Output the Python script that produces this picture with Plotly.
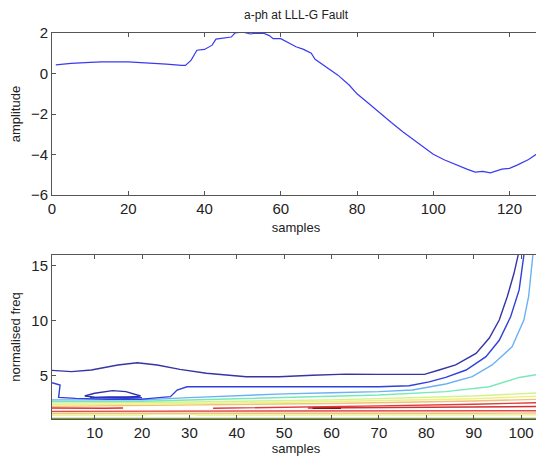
import plotly.graph_objects as go

# ---------------- data: top panel (a-ph signal) ----------------
sig_x = [1, 5, 10, 13, 20, 25, 30, 34, 35, 36.5, 38, 40, 42, 43, 45, 47, 48, 50, 52, 54, 55,
         57, 58, 60, 62, 64, 66, 68, 69, 72, 75, 78, 80, 83, 86, 89, 92, 95, 98, 100, 103,
         106, 109, 111, 113, 115, 118, 120, 122, 125, 128]
sig_y = [0.43, 0.5, 0.55, 0.58, 0.58, 0.53, 0.46, 0.4, 0.4, 0.66, 1.15, 1.19, 1.4, 1.7, 1.75,
         1.8, 2.0, 2.05, 1.95, 2.0, 2.03, 1.87, 1.72, 1.72, 1.52, 1.32, 1.19, 1.0, 0.7, 0.33,
         -0.08, -0.58, -1.0, -1.47, -1.96, -2.42, -2.87, -3.28, -3.7, -3.98, -4.27, -4.52,
         -4.73, -4.86, -4.83, -4.9, -4.72, -4.68, -4.52, -4.24, -3.86]
top_xticks = [0, 20, 40, 60, 80, 100, 120]
top_yticks = [-6, -4, -2, 0, 2]

# ---------------- data: bottom panel (contour lines) ----------------
lvl1_x = [1, 5.1, 9.3, 14.9, 19, 23.2, 28, 33.6, 42, 48.9, 56, 63, 70, 79.6, 82.7, 86.2, 90.5, 93.3, 95.4, 97.1, 98.5, 99.4]
lvl1_y = [5.45, 5.33, 5.48, 5.94, 6.15, 5.94, 5.54, 5.18, 4.87, 4.87, 5.0, 5.1, 5.08, 5.08, 5.48, 5.94, 7.0, 8.4, 10.05, 12.2, 14.3, 16]
loop1_x = [7.9, 10, 13.8, 16.6, 19.7, 17, 13, 10, 7.9]
loop1_y = [3.1, 3.35, 3.59, 3.5, 3.1, 3.0, 2.98, 3.0, 3.1]
lvl2_x = [1, 2.7, 2.4, 6, 12.8, 19.7, 21.8, 26, 27.4, 29.5, 40, 50, 60, 70, 76.4, 80.6, 84.1, 88.4, 92.6, 95.4, 97.8, 99.6, 100.6]
lvl2_y = [4.32, 4.1, 2.98, 2.89, 2.8, 2.8, 2.89, 3.04, 3.65, 3.95, 3.95, 3.95, 3.95, 3.95, 4.04, 4.4, 4.8, 5.48, 6.7, 8.2, 10.35, 12.8, 16]
loop2_x = [9, 13, 17, 20, 17, 13, 9]
loop2_y = [2.95, 3.02, 3.02, 2.95, 2.9, 2.9, 2.95]
lvl3_x = [1, 10, 20, 30, 40, 50, 60, 70, 77.1, 84.1, 89.7, 93.9, 98.1, 100.6, 101.6, 102.5]
lvl3_y = [2.75, 2.73, 2.75, 2.95, 3.15, 3.3, 3.4, 3.5, 3.65, 4.2, 4.87, 5.94, 7.6, 10.05, 12.2, 16]
lvl4_x = [1, 20, 40, 60, 70, 84.1, 93.3, 99.6, 104]
lvl4_y = [2.6, 2.62, 2.85, 3.05, 3.19, 3.5, 3.95, 4.8, 5.1]
lvl5_x = [1, 30, 60, 90, 104]
lvl5_y = [2.45, 2.55, 2.75, 3.1, 3.4]
lvl6_x = [1, 30, 60, 90, 104]
lvl6_y = [2.3, 2.4, 2.6, 2.85, 3.1]
lvl7_x = [1, 30, 60, 90, 104]
lvl7_y = [2.15, 2.25, 2.42, 2.65, 2.8]
lvl8a_x = [1, 4, 8, 12, 16]
lvl8a_y = [2.0, 1.98, 1.97, 1.98, 2.0]
lvl8b_x = [35, 50, 70, 90, 104]
lvl8b_y = [1.98, 2.05, 2.2, 2.35, 2.5]
lvl9_x = [55, 70, 85, 95, 104]
lvl9_y = [2.0, 2.05, 2.1, 2.12, 2.14]
lvl10_x = [56, 58, 60, 62]
lvl10_y = [1.98, 2.0, 2.0, 1.98]
lvl11_x = [1, 30, 60, 90, 104]
lvl11_y = [1.7, 1.7, 1.72, 1.74, 1.76]
lvl12_x = [1, 30, 60, 90, 104]
lvl12_y = [1.52, 1.5, 1.5, 1.52, 1.55]
lvl13_x = [1, 20, 22, 30, 32, 60, 90, 104]
lvl13_y = [1.36, 1.36, 1.45, 1.45, 1.36, 1.35, 1.35, 1.38]
lvl14_x = [1, 104]
lvl14_y = [1.06, 1.06]
bot_xticks = [10, 20, 30, 40, 50, 60, 70, 80, 90, 100]
bot_yticks = [5, 10, 15]

contours = [
    (lvl14_x, lvl14_y, "#7fa02a"),
    (lvl13_x, lvl13_y, "#ecef8a"),
    (lvl12_x, lvl12_y, "#f0c27c"),
    (lvl11_x, lvl11_y, "#e04848"),
    (lvl7_x, lvl7_y, "#f2c07a"),
    (lvl6_x, lvl6_y, "#eef080"),
    (lvl5_x, lvl5_y, "#d2f28a"),
    (lvl8a_x, lvl8a_y, "#e03030"),
    (lvl8b_x, lvl8b_y, "#e03a3a"),
    (lvl9_x, lvl9_y, "#d03030"),
    (lvl10_x, lvl10_y, "#901010"),
    (lvl4_x, lvl4_y, "#78e8b8"),
    (lvl3_x, lvl3_y, "#6ab2f2"),
    (loop2_x, loop2_y, "#2a40e0"),
    (lvl2_x, lvl2_y, "#3040dc"),
    (loop1_x, loop1_y, "#3232a8"),
    (lvl1_x, lvl1_y, "#3535a5"),
]

FONT = "Liberation Sans, Arial, sans-serif"

fig = go.Figure()
fig.add_trace(go.Scatter(x=sig_x, y=sig_y, mode="lines", line=dict(color="#3a3af0", width=1.2),
                         xaxis="x", yaxis="y", showlegend=False))
for cx, cy, col in contours:
    fig.add_trace(go.Scatter(x=cx, y=cy, mode="lines", line=dict(color=col, width=1.4),
                             xaxis="x2", yaxis="y2", showlegend=False))

axis_common = dict(showline=True, linecolor="#555555", linewidth=1, mirror="ticks",
                   ticks="inside", ticklen=4, tickcolor="#555555", showgrid=False,
                   zeroline=False, tickfont=dict(family=FONT, size=15, color="#222222"))

# page body has an 8px margin: figure sits at (8, 8)
fig.update_layout(
    width=536, height=449,
    margin=dict(l=44, r=4, t=25, b=38),
    paper_bgcolor="white", plot_bgcolor="white",
    font=dict(family=FONT, size=13, color="#222222"),
    xaxis=dict(domain=[0, 1], range=[0, 128], tickvals=top_xticks, anchor="y",
               title=dict(text="samples", standoff=6, font=dict(size=13)), **axis_common),
    yaxis=dict(domain=[0.58, 1], range=[-6, 2], tickvals=top_yticks, anchor="x",
               title=dict(text="amplitude", standoff=8, font=dict(size=13)), **axis_common),
    xaxis2=dict(domain=[0, 1], range=[1, 104], tickvals=bot_xticks, anchor="y2",
                title=dict(text="samples", standoff=0, font=dict(size=13)), **axis_common),
    yaxis2=dict(domain=[0, 0.425], range=[1, 16], tickvals=bot_yticks, anchor="x2",
                title=dict(text="normalised freq", standoff=8, font=dict(size=13)), **axis_common),
    annotations=[dict(text="a-ph at LLL-G Fault", xref="paper", yref="paper", x=0.5, y=1,
                      xanchor="center", yanchor="bottom", yshift=9, showarrow=False,
                      font=dict(family=FONT, size=12, color="#222222"))],
)

fig.write_html("out.html")
